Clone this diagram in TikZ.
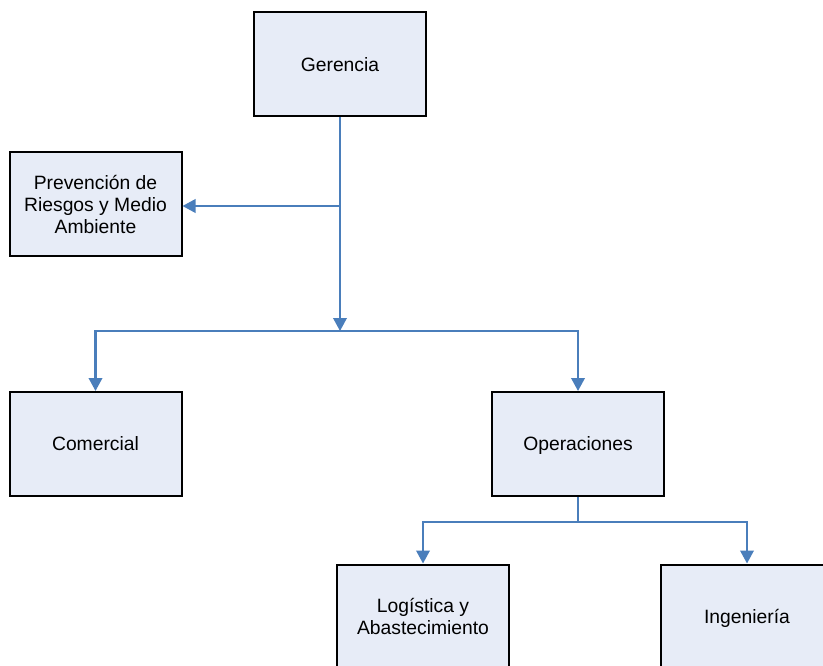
\documentclass[tikz,border=0pt]{standalone}
\usepackage{fontspec}
\setmainfont{Liberation Sans}
\usetikzlibrary{arrows.meta}
\definecolor{boxfill}{RGB}{231,236,247}
\definecolor{linkblue}{RGB}{74,126,187}
\begin{document}
\begin{tikzpicture}[x=1pt,y=-1pt,
  unit/.style={draw=black, line width=2pt, fill=boxfill, rectangle,
    minimum width=172pt, minimum height=104pt, inner sep=2pt, align=center,
    font=\fontsize{19.3pt}{22pt}\selectfont},
  flat/.style={text depth=0pt},
  link/.style={draw=linkblue, line width=2.1pt,
    -{Triangle[width=13.5pt,length=13pt]}},
  plain/.style={draw=linkblue, line width=2.1pt}]
\useasboundingbox (0,0) rectangle (823,666);
\fill[white] (0,0) rectangle (823,666);

% organisation boxes
\node[unit] (ger) at (340,64.5) {Gerencia};
\node[unit] (prev) at (95.5,204.5) {Prevención de\\Riesgos y Medio\\Ambiente};
\node[unit] (com) at (95.5,444) {Comercial};
\node[unit,flat] (ope) at (578,444) {Operaciones};
\node[unit] (log) at (423,616.5) {Logística y\\Abastecimiento};
\node[unit,flat] (ing) at (747,616.5) {Ingeniería};

% junction points
\coordinate (j1) at (340,331);
\coordinate (jp) at (340,206);
\coordinate (j2) at (578,522);

% connectors
\draw[link] (ger.south) -- (j1);
\draw[link] (jp) -- (prev.east |- jp);
\draw[link] (j1) -| (com.north);
\draw[link] (j1) -| (ope.north);
\draw[plain] (ope.south) -- (j2);
\draw[link] (j2) -| (log.north);
\draw[link] (j2) -| (ing.north);
\end{tikzpicture}
\end{document}
